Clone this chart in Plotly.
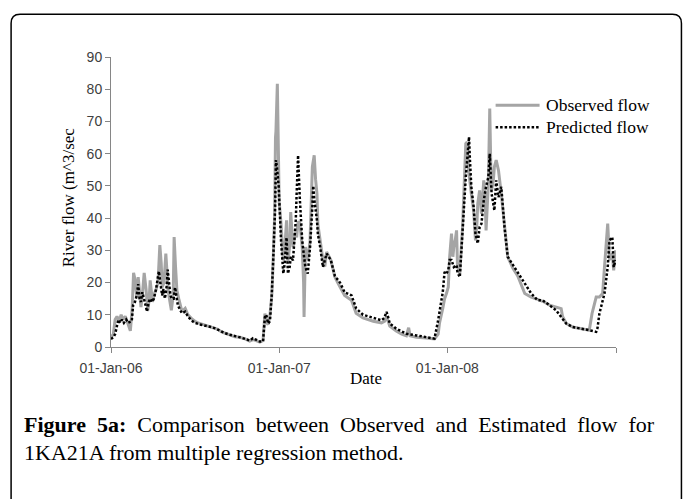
import pandas as pd
import plotly.graph_objects as go

START = pd.Timestamp("2006-01-01")

# Observed flow: day offset from 01-Jan-06 and flow (m^3/sec)
obs_day = [0, 5, 9, 13, 18, 22, 26, 31, 35, 39, 42, 46, 49, 52, 56, 59, 62, 65, 68, 72,
           76, 80, 83, 85, 90, 93, 98, 102, 106, 109, 111, 115, 119, 122, 124, 128, 131, 135, 137, 140,
           143, 147, 150, 154, 161, 167, 175, 182, 189, 204, 218, 232, 240, 254, 269, 280, 291, 301, 308, 315,
           323, 330, 334, 338, 341, 345, 349, 352, 355, 357, 358, 361, 363, 365, 369, 374, 377, 381, 384, 388,
           390, 395, 401, 403, 406, 410, 415, 418, 419, 421, 422, 427, 432, 437, 441, 444, 447, 449, 454, 460,
           464, 468, 477, 486, 492, 497, 507, 522, 532, 547, 569, 587, 594, 598, 605, 619, 631, 641, 646, 649,
           663, 684, 702, 710, 713, 720, 724, 728, 732, 735, 739, 742, 744, 747, 750, 752, 757, 763, 768, 770,
           773, 776, 782, 787, 791, 794, 796, 800, 804, 809, 812, 814, 819, 820, 822, 824, 826, 830, 832, 836,
           841, 847, 854, 861, 872, 883, 898, 912, 926, 937, 952, 966, 977, 980, 988, 1002, 1024, 1038, 1044, 1053,
           1060, 1067, 1071, 1074, 1078, 1082, 1088, 1091, 1095]
obs_flow = [3, 4, 8.5, 9.5, 8, 10, 8.5, 9.5, 8, 6.5, 5, 12, 23, 21, 15.5, 21.7, 18, 12.4, 16, 23,
            18, 11.4, 15, 20.7, 14, 16, 18, 20, 31.6, 26, 18.6, 20, 29, 22, 17.6, 14, 11.4, 16, 34.1, 25,
            17.6, 15, 13, 11, 12, 10, 8.8, 8, 7.5, 6.8, 6, 5.5, 4.7, 4, 3.2, 3, 2.5, 1.8, 2.3, 2,
            1.5, 2, 10.4, 7.5, 7, 10, 16, 27, 40, 65, 67, 81.7, 60, 45, 38.3, 26.9, 30, 39.3, 26, 32,
            41.9, 31, 36, 34, 39, 38.3, 31, 20, 9.3, 22, 31, 27, 33, 55.9, 59.5, 52, 47.6, 38, 33, 27,
            25, 29.5, 27, 21.7, 20, 18.5, 16, 14.5, 10.5, 9, 8, 7.5, 8, 9.5, 6.5, 5, 4, 3.5, 6, 3.5,
            3, 2.8, 2.5, 4, 7.5, 12, 15, 16.6, 18.6, 28, 35.2, 28, 31, 33, 36.2, 25, 22.8, 37.2, 55, 63.1,
            63.6, 55, 47.6, 42.4, 33.1, 38, 44.5, 48.6, 41.4, 51.7, 46, 36.2, 50.7, 60, 74, 58, 48.6, 52, 55.9, 58,
            54.8, 47.6, 37.2, 28, 24.5, 22, 16.6, 15.5, 14.8, 14.2, 13, 12.4, 11.9, 9.5, 7.3, 6.2, 5.7, 5.2, 10.4, 15.5,
            15.5, 16.6, 24.8, 30, 38.3, 27, 29, 23.8, 30]

# Predicted flow
pred_day = [0, 5, 9, 13, 16, 20, 24, 28, 33, 37, 41, 45, 48, 52, 56, 59, 62, 65, 68, 72,
            75, 78, 82, 85, 89, 93, 98, 101, 104, 107, 111, 114, 117, 121, 123, 126, 129, 132, 136, 139,
            142, 145, 150, 154, 161, 167, 174, 182, 193, 204, 217, 226, 236, 247, 258, 269, 280, 291, 301, 308,
            315, 323, 330, 334, 337, 341, 345, 349, 352, 356, 358, 360, 364, 369, 374, 377, 381, 384, 388, 390,
            395, 401, 403, 406, 410, 415, 419, 422, 427, 432, 437, 439, 441, 447, 449, 454, 460, 468, 477, 486,
            497, 507, 522, 532, 547, 569, 587, 593, 598, 601, 605, 619, 641, 663, 684, 702, 710, 717, 720, 724,
            728, 732, 735, 739, 744, 750, 752, 757, 763, 770, 773, 777, 779, 782, 787, 791, 796, 800, 804, 809,
            814, 819, 822, 826, 829, 832, 836, 841, 847, 854, 861, 872, 883, 898, 912, 926, 937, 952, 966, 977,
            988, 1002, 1024, 1038, 1053, 1056, 1060, 1067, 1071, 1078, 1082, 1088, 1091, 1095]
pred_flow = [2.5, 3, 4, 6.5, 8.5, 7.5, 8.5, 7.5, 8.5, 7.5, 7.8, 8, 13, 14, 16, 19.5, 15, 14, 17, 15,
             13, 11, 14, 15, 14, 15, 18, 21, 23.5, 20, 16, 18, 15, 19, 24, 20, 16, 15, 15, 18.5,
             16, 13, 11.5, 10.5, 11, 9.5, 8.3, 7.5, 7, 6.7, 6.2, 5.8, 5, 4.3, 3.8, 3.5, 3, 2.5, 2, 2.7,
             2.2, 1.7, 1.8, 9.3, 10, 7.3, 8, 16.6, 26.9, 42.4, 58, 56, 49.7, 33.1, 22.8, 26, 34, 22.8, 25, 28,
             26.9, 39.3, 48, 59.5, 45.5, 33.1, 28, 24.8, 22.8, 31, 43.5, 50, 46, 39.3, 35, 31, 24.8, 29, 27, 22,
             20, 17, 16, 12, 10, 9, 8.3, 9, 10.9, 9.5, 7.3, 5.7, 4.1, 3.6, 3.1, 2.6, 8.3, 14.5, 17, 23.3,
             22.8, 23.8, 27, 27, 24.8, 25.4, 23, 21.7, 37.2, 52.8, 58, 65.2, 58, 49.7, 43.5, 35.2, 32.1, 37.2, 38.3, 45.5,
             49.7, 52.8, 60, 47.6, 45, 42.4, 51.7, 46.5, 49.7, 37.2, 28, 25.5, 23, 19.7, 16.6, 14.5, 14.5, 12.9, 11.4, 9.3,
             7.3, 6.2, 5.7, 5.2, 4.7, 6, 10.4, 14.5, 16.6, 24.8, 33.1, 34.1, 24.8, 27]

series_names = ["Observed flow", "Predicted flow"]
tick_dates = ["2006-01-01", "2007-01-01", "2008-01-01", "2009-01-01"]
tick_labels = ["01-Jan-06", "01-Jan-07", "01-Jan-08", ""]
y_ticks = [0, 10, 20, 30, 40, 50, 60, 70, 80, 90]

obs_x = START + pd.to_timedelta(obs_day, unit="D")
pred_x = START + pd.to_timedelta(pred_day, unit="D")

W, H = 683, 499
L, R, T, B = 111, 616.5, 56.7, 346.7

obs_line = dict(color="#a5a5a5", width=3)
pred_line = dict(color="#000000", width=2.5, dash="2.5px,2px")

fig = go.Figure()
fig.add_trace(go.Scatter(x=obs_x, y=obs_flow, mode="lines", name=series_names[0], line=obs_line))
fig.add_trace(go.Scatter(x=pred_x, y=pred_flow, mode="lines", name=series_names[1], line=pred_line))

def px(x):
    return (x - L) / (R - L)

def py(y):
    return (B - y) / (B - T)

axis_col = "#868686"
fig.update_layout(
    width=W, height=H,
    margin=dict(l=L, r=W - R, t=T, b=H - B, pad=0),
    paper_bgcolor="white", plot_bgcolor="white",
    showlegend=False,
    xaxis=dict(type="date", range=["2006-01-01", "2009-01-01"],
               tickmode="array", tickvals=tick_dates, ticktext=tick_labels,
               showgrid=False, zeroline=False, showline=True, linecolor=axis_col, linewidth=1,
               ticks="outside", ticklen=5, tickcolor=axis_col, ticklabelstandoff=3,
               tickfont=dict(family="Liberation Sans", size=14, color="#404040")),
    yaxis=dict(range=[0, 90], tickmode="array", tickvals=y_ticks,
               showgrid=False, zeroline=False, showline=True, linecolor=axis_col, linewidth=1,
               ticks="outside", ticklen=5, tickcolor=axis_col,
               tickfont=dict(family="Liberation Sans", size=14, color="#404040")),
)

# legend (drawn as key lines + labels)
for name, style, ly in [(series_names[0], obs_line, 105), (series_names[1], pred_line, 127)]:
    fig.add_shape(type="line", xref="paper", yref="paper", x0=px(496), x1=px(540), y0=py(ly), y1=py(ly),
                  line=style)
    fig.add_annotation(xref="paper", yref="paper", x=px(544), y=py(ly), xanchor="left", yanchor="middle",
                       showarrow=False, text=name,
                       font=dict(family="Liberation Serif", size=17.5, color="#000"))

cap1 = "<b>Figure 5a:</b> Comparison between Observed and Estimated flow for".replace(" ", " &nbsp;")
annots = [
    dict(text="River flow (m^3/sec", x=px(68), y=py(197), textangle=-90,
         font=dict(family="Liberation Serif", size=17, color="#000")),
    dict(text="Date", x=px(366), y=py(378),
         font=dict(family="Liberation Serif", size=17, color="#000")),
    dict(text=cap1, x=px(22), y=py(424),
         xanchor="left", font=dict(family="Liberation Serif", size=22, color="#000")),
    dict(text="1KA21A from multiple regression method.", x=px(22), y=py(452),
         xanchor="left", font=dict(family="Liberation Serif", size=22, color="#000")),
]
for a in annots:
    a.setdefault("xanchor", "center")
    fig.add_annotation(xref="paper", yref="paper", yanchor="middle", showarrow=False, **a)

# rounded frame around the figure
x0, x1, y0, y1, r = 11, 682, 14, 520, 9
path = (f"M {px(x0)},{py(y1)} L {px(x0)},{py(y0 + r)} Q {px(x0)},{py(y0)} {px(x0 + r)},{py(y0)} "
        f"L {px(x1 - r)},{py(y0)} Q {px(x1)},{py(y0)} {px(x1)},{py(y0 + r)} L {px(x1)},{py(y1)}")
fig.add_shape(type="path", path=path, xref="paper", yref="paper",
              line=dict(color="#000", width=1.5))

fig.write_html("out.html")
